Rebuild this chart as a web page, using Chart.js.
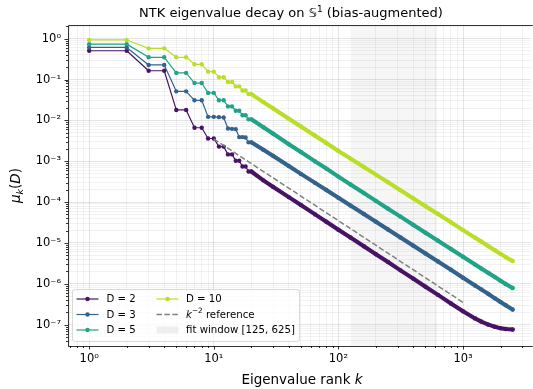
<!DOCTYPE html>
<html>
<head>
<meta charset="utf-8">
<title>NTK eigenvalue decay</title>
<script src="https://cdn.jsdelivr.net/npm/chart.js"></script>
<style>
  body { margin: 0; background: #fff; }
  #chart { display: block; }
</style>
</head>
<body>
<canvas id="chart" width="533" height="389"></canvas>
<script>
// eigenvalue ranks (dense at the start, then sparse along the smooth tail)
const ranks = [1, 2, 3, 4, 5, 6, 7, 8, 9, 10, 11, 12, 13, 14, 15, 16, 17, 18, 19, 20,
  25, 30, 40, 50, 65, 80, 100, 125, 160, 200, 250, 315, 400, 500, 630, 800, 1000, 1250, 1400, 1600,
  1800, 2000, 2200, 2500];

const muD2 = [0.506, 0.506, 0.164, 0.164, 0.018, 0.018, 0.0066, 0.0066, 0.0036, 0.0036,
  0.00228, 0.00228, 0.00147, 0.00147, 0.00103, 0.00103, 7.4e-4, 7.4e-4, 5.6e-4, 5.6e-4,
  3.4e-4, 2.35e-4, 1.32e-4, 8.5e-5, 5.0e-5, 3.3e-5, 2.1e-5, 1.36e-5, 8.3e-6, 5.3e-6, 3.4e-6, 2.13e-6,
  1.33e-6, 8.5e-7, 5.35e-7, 3.3e-7, 2.12e-7, 1.42e-7, 1.19e-7, 1.0e-7,
  8.9e-8, 8.2e-8, 7.8e-8, 7.6e-8];
const muD3 = [0.61, 0.61, 0.227, 0.227, 0.0513, 0.0513, 0.031, 0.031, 0.0122, 0.0122,
  0.012, 0.0118, 0.0063, 0.0062, 0.0061, 0.0039, 0.0039, 0.0038, 0.0029, 0.0029,
  1.9e-3, 1.34e-3, 7.6e-4, 4.9e-4, 2.95e-4, 1.97e-4, 1.27e-4, 8.2e-5, 5.1e-5, 3.3e-5, 2.14e-5, 1.36e-5,
  8.5e-6, 5.5e-6, 3.5e-6, 2.2e-6, 1.41e-6, 9.1e-7, 7.3e-7, 5.6e-7,
  4.4e-7, 3.6e-7, 2.98e-7, 2.34e-7];
const muD5 = [0.735, 0.735, 0.35, 0.35, 0.145, 0.145, 0.082, 0.082, 0.047, 0.047,
  0.031, 0.031, 0.022, 0.022, 0.0172, 0.0172, 0.0133, 0.0133, 0.0106, 0.0106,
  0.0068, 0.0047, 0.0026, 0.00168, 9.9e-4, 6.6e-4, 4.2e-4, 2.7e-4, 1.66e-4, 1.07e-4, 6.9e-5, 4.4e-5,
  2.75e-5, 1.77e-5, 1.13e-5, 7.1e-6, 4.6e-6, 2.95e-6, 2.37e-6, 1.83e-6,
  1.46e-6, 1.19e-6, 9.9e-7, 7.9e-7];
const muD10 = [0.93, 0.93, 0.58, 0.58, 0.35, 0.35, 0.236, 0.236, 0.156, 0.156,
  0.114, 0.114, 0.087, 0.087, 0.068, 0.068, 0.054, 0.054, 0.044, 0.044,
  0.028, 0.0195, 0.011, 0.0071, 0.0042, 0.0028, 0.00178, 0.00116, 7.2e-4, 4.7e-4, 3.05e-4, 1.95e-4,
  1.23e-4, 7.9e-5, 5.1e-5, 3.2e-5, 2.06e-5, 1.34e-5, 1.08e-5, 8.3e-6,
  6.6e-6, 5.4e-6, 4.5e-6, 3.6e-6];

const seriesLabels = ['D = 2', 'D = 3', 'D = 5', 'D = 10'];
const seriesValues = [muD2, muD3, muD5, muD10];
const seriesColors = ['#471365', '#33638d', '#20a386', '#bade28'];

// k^-2 reference line end points
const refRanks = [10, 1000];
const refValues = [3.5e-3, 3.5e-7];
const fitWindow = [125, 625];

const xTickExps = [0, 1, 2, 3];
const xTickLabels = ['10\u2070', '10\u00b9', '10\u00b2', '10\u00b3'];
const yTickExps = [-7, -6, -5, -4, -3, -2, -1, 0];
const yTickLabels = ['10\u207b\u2077', '10\u207b\u2076', '10\u207b\u2075', '10\u207b\u2074',
  '10\u207b\u00b3', '10\u207b\u00b2', '10\u207b\u00b9', '10\u2070'];

const X_MIN = 0.676, X_MAX = 3500;
const Y_MIN = 3.45e-8, Y_MAX = 2.16;
const FONT = '"DejaVu Sans", sans-serif';

function isPow10(v) {
  const l = Math.log10(v);
  return Math.abs(l - Math.round(l)) < 1e-9;
}

function logTicks(min, max) {
  const out = [];
  for (let e = Math.floor(Math.log10(min)); e <= Math.ceil(Math.log10(max)); e++) {
    for (let m = 1; m <= 9; m++) {
      const v = Number((m * Math.pow(10, e)).toPrecision(12));
      if (v >= min && v <= max) out.push({ value: v });
    }
  }
  return out;
}

function gridColor(c) {
  if (!c.tick) return 'rgba(0,0,0,0)';
  return isPow10(c.tick.value) ? 'rgba(150,150,150,0.33)' : 'rgba(150,150,150,0.16)';
}

const datasets = seriesLabels.map((lab, i) => ({
  label: lab,
  data: ranks.map((k, j) => ({ x: k, y: seriesValues[i][j] })),
  borderColor: seriesColors[i],
  backgroundColor: seriesColors[i],
  borderWidth: 1.2,
  borderCapStyle: 'round',
  borderJoinStyle: 'round',
  pointRadius: 2.2,
  pointBorderWidth: 0,
  pointHoverRadius: 0,
  segment: { borderWidth: c => (c.p0.parsed.x >= 20 ? 4.1 : 1.2) },
  order: 4 - i
}));

datasets.push({
  label: 'k^-2 reference',
  data: refRanks.map((k, j) => ({ x: k, y: refValues[j] })),
  borderColor: '#808080',
  borderWidth: 1.5,
  borderDash: [5.5, 2.4],
  pointRadius: 0,
  order: 0
});

datasets.push({
  label: 'fit window [125, 625]',
  data: fitWindow.map(k => ({ x: k, y: Y_MAX })),
  borderWidth: 0,
  backgroundColor: 'rgba(0,0,0,0.035)',
  fill: 'start',
  pointRadius: 0,
  order: 10
});

// draws a run of text pieces: [{t, font, dy}]
function drawRuns(ctx, runs, x, y, align) {
  let w = 0;
  runs.forEach(r => { ctx.font = r.font; w += ctx.measureText(r.t).width; });
  let cx = align === 'center' ? x - w / 2 : x;
  ctx.textAlign = 'left';
  runs.forEach(r => {
    ctx.font = r.font;
    ctx.fillText(r.t, cx, y + (r.dy || 0));
    cx += ctx.measureText(r.t).width;
  });
}

const decor = {
  id: 'decor',
  afterDraw(chart) {
    const ctx = chart.ctx;
    const a = chart.chartArea;
    const sx = chart.scales.x, sy = chart.scales.y;
    ctx.save();

    // ticks
    ctx.strokeStyle = '#000';
    ctx.lineWidth = 0.8;
    sx.ticks.forEach(t => {
      const px = Math.round(sx.getPixelForValue(t.value)) + 0.5;
      const len = isPow10(t.value) ? 3.5 : 2;
      ctx.beginPath(); ctx.moveTo(px, a.bottom); ctx.lineTo(px, a.bottom + len); ctx.stroke();
    });
    sy.ticks.forEach(t => {
      const py = Math.round(sy.getPixelForValue(t.value)) + 0.5;
      const len = isPow10(t.value) ? 3.5 : 2;
      ctx.beginPath(); ctx.moveTo(a.left, py); ctx.lineTo(a.left - len, py); ctx.stroke();
    });

    // spines
    ctx.beginPath();
    ctx.moveTo(a.right + 2, a.top + 0.5);
    ctx.lineTo(a.left + 0.5, a.top + 0.5);
    ctx.lineTo(a.left + 0.5, a.bottom + 0.5);
    ctx.lineTo(a.right + 2, a.bottom + 0.5);
    ctx.stroke();

    // title
    ctx.fillStyle = '#000';
    ctx.textBaseline = 'alphabetic';
    const tf = '13px ' + FONT;
    drawRuns(ctx, [
      { t: 'NTK eigenvalue decay on \u{1D54A}', font: tf },
      { t: '1', font: '9px ' + FONT, dy: -5 },
      { t: ' (bias-augmented)', font: tf }
    ], 291, 16.5, 'center');

    // x label
    const lf = '13.5px ' + FONT;
    drawRuns(ctx, [
      { t: 'Eigenvalue rank ', font: lf },
      { t: 'k', font: 'italic ' + lf }
    ], (a.left + 536) / 2, 384, 'center');

    // y label
    ctx.save();
    ctx.translate(20, (a.top + a.bottom) / 2);
    ctx.rotate(-Math.PI / 2);
    drawRuns(ctx, [
      { t: '\u03bc', font: 'italic ' + lf },
      { t: 'k', font: 'italic 9.5px ' + FONT, dy: 2.5 },
      { t: '(', font: lf },
      { t: 'D', font: 'italic ' + lf },
      { t: ')', font: lf }
    ], 0, 0, 'center');
    ctx.restore();

    // legend
    const bx = 72.5, by = 289.5, bw = 227, bh = 52;
    ctx.beginPath();
    ctx.roundRect(bx, by, bw, bh, 2.5);
    ctx.fillStyle = 'rgba(255,255,255,0.8)';
    ctx.fill();
    ctx.strokeStyle = '#d0d0d0';
    ctx.lineWidth = 0.8;
    ctx.stroke();

    const rows = [299, 314.5, 330];
    const cols = [{ x0: 76.5, x1: 98.5, tx: 106.5 }, { x0: 156.5, x1: 178.5, tx: 186 }];
    const ds = chart.data.datasets;
    const lgf = '10.2px ' + FONT;
    ctx.textBaseline = 'middle';
    for (let i = 0; i < 6; i++) {
      const c = cols[Math.floor(i / 3)], y = rows[i % 3];
      const d = ds[i];
      ctx.fillStyle = '#000';
      if (i < 4) {
        ctx.strokeStyle = d.borderColor; ctx.lineWidth = 1.2; ctx.setLineDash([]);
        ctx.beginPath(); ctx.moveTo(c.x0, y); ctx.lineTo(c.x1, y); ctx.stroke();
        ctx.fillStyle = d.borderColor;
        ctx.beginPath(); ctx.arc((c.x0 + c.x1) / 2, y, 2.2, 0, Math.PI * 2); ctx.fill();
        ctx.fillStyle = '#000';
        drawRuns(ctx, [{ t: d.label, font: lgf }], c.tx, y + 0.5, 'left');
      } else if (i === 4) {
        ctx.strokeStyle = d.borderColor; ctx.lineWidth = 1.5; ctx.setLineDash(d.borderDash);
        ctx.beginPath(); ctx.moveTo(c.x0, y); ctx.lineTo(c.x1, y); ctx.stroke();
        ctx.setLineDash([]);
        drawRuns(ctx, [
          { t: 'k', font: 'italic ' + lgf },
          { t: '\u22122', font: '7.3px ' + FONT, dy: -3.5 },
          { t: ' reference', font: lgf }
        ], c.tx, y + 0.5, 'left');
      } else {
        ctx.fillStyle = 'rgba(0,0,0,0.06)';
        ctx.fillRect(c.x0, y - 3.5, c.x1 - c.x0, 7);
        ctx.fillStyle = '#000';
        drawRuns(ctx, [{ t: d.label, font: lgf }], c.tx, y + 0.5, 'left');
      }
    }
    ctx.restore();
  }
};

new Chart(document.getElementById('chart'), {
  type: 'line',
  data: { datasets },
  options: {
    responsive: false,
    animation: false,
    devicePixelRatio: 1,
    layout: { padding: { top: 25, left: 0, right: 0, bottom: 0 } },
    plugins: { legend: { display: false }, title: { display: false }, tooltip: { enabled: false } },
    scales: {
      x: {
        type: 'logarithmic',
        min: X_MIN, max: X_MAX,
        afterFit: s => { s.height = 43; },
        afterBuildTicks: s => { s.ticks = logTicks(X_MIN, X_MAX); },
        border: { display: false },
        grid: { color: gridColor, lineWidth: 0.8, tickColor: 'rgba(0,0,0,0)', tickLength: 4 },
        ticks: {
          autoSkip: false, maxRotation: 0, padding: 2,
          color: '#000', font: { family: FONT, size: 11.5 },
          callback: v => isPow10(v) ? xTickLabels[xTickExps.indexOf(Math.round(Math.log10(v)))] || '' : ''
        }
      },
      y: {
        type: 'logarithmic',
        min: Y_MIN, max: Y_MAX,
        afterFit: s => { s.width = 68; },
        afterBuildTicks: s => { s.ticks = logTicks(Y_MIN, Y_MAX); },
        border: { display: false },
        grid: { color: gridColor, lineWidth: 0.8, tickColor: 'rgba(0,0,0,0)', tickLength: 4 },
        ticks: {
          autoSkip: false, padding: 3,
          color: '#000', font: { family: FONT, size: 11.5 },
          callback: v => isPow10(v) ? yTickLabels[yTickExps.indexOf(Math.round(Math.log10(v)))] || '' : ''
        }
      }
    }
  },
  plugins: [decor]
});
</script>
</body>
</html>
